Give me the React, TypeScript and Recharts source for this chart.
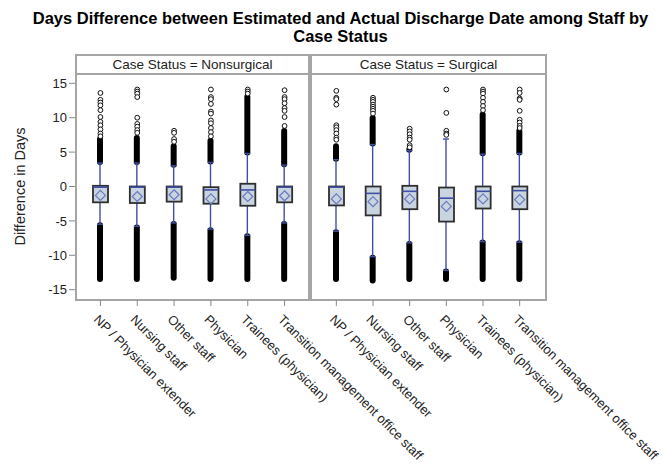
import { ComposedChart, Bar, Scatter, XAxis, YAxis, Label } from 'recharts'

const FONT = '"Liberation Sans", Arial, sans-serif'

const staff = [
	'NP / Physician extender',
	'Nursing staff',
	'Other staff',
	'Physician',
	'Trainees (physician)',
	'Transition management office staff',
]

const yTicks = [-15, -10, -5, 0, 5, 10, 15]

// Case Status = Nonsurgical
const nsQ1 = [-2.3, -2.4, -2.2, -2.5, -2.8, -2.3]
const nsMedian = [-0.1, -0.1, -0.1, -0.5, -0.5, -0.1]
const nsQ3 = [0.1, 0, 0, -0.1, 0.4, 0]
const nsMean = [-1.3, -1.45, -1.2, -1.8, -1.45, -1.35]
const nsWhiskerLow = [-5.5, -5.8, -5.3, -6.2, -7.1, -5.3]
const nsWhiskerHigh = [3.4, 3.4, 3.0, 3.5, 4.8, 3.1]
const nsDenseLow = [-13.6, -13.6, -13.4, -13.6, -13.6, -13.6]
const nsDenseHigh = [7.0, 7.2, 6.0, 6.8, 13.2, 8.2]
const nsOutliers = [
	[13.6, 12.6, 12.2, 11.8, 11.1, 10.1, 9.4, 8.9, 8.3, 7.7, 7.3],
	[14.1, 13.8, 13.5, 13.0, 10.0, 9.1, 8.7, 8.2, 7.8],
	[8.1, 7.8, 6.9, 6.5],
	[14.1, 13.0, 12.7, 12.0, 10.9, 10.6, 9.6, 9.2, 8.5, 7.9, 7.3],
	[14.1, 13.8, 13.5],
	[14.0, 13.0, 12.7, 12.1, 11.4, 11.0, 10.1, 8.8],
]

// Case Status = Surgical
const sQ1 = [-2.75, -4.2, -3.3, -5.1, -3.2, -3.3]
const sMedian = [-0.1, -1.0, -0.7, -1.7, -0.7, -0.6]
const sQ3 = [0, 0, 0.1, -0.15, 0, 0]
const sMean = [-1.8, -2.2, -1.8, -2.9, -1.8, -1.9]
const sWhiskerLow = [-6.5, -10.2, -8.2, -12.2, -8.0, -8.1]
const sWhiskerHigh = [3.9, 6.1, 5.2, 6.9, 4.7, 4.8]
const sDenseLow = [-13.6, -13.8, -13.6, -13.6, -13.6, -13.6]
const sDenseHigh = [6.0, 10.1, 5.5, 6.9, 10.6, 8.2]
const sOutliers = [
	[13.9, 12.9, 12.7, 11.9, 8.9, 8.6, 8.2, 7.7, 7.1, 6.8],
	[12.9, 12.6, 12.3, 11.9, 11.6, 11.3, 11.0, 10.6],
	[8.4, 8.0, 7.6, 7.1, 6.8, 6.0, 5.7],
	[14.1, 10.7, 8.1, 7.7, 7.5],
	[14.1, 13.8, 13.5, 12.9, 12.3, 11.7, 11.1],
	[14.1, 13.6, 12.8, 12.6, 11.0, 9.7, 9.3, 8.8, 8.5],
]

function buildRows(q1, med, q3, mean, wLo, wHi, dLo, dHi) {
	return staff.map((name, i) => ({
		name,
		box: [q1[i], q3[i]],
		whisker: [wLo[i], wHi[i]],
		upper: [wHi[i], dHi[i]],
		lower: [dLo[i], wLo[i]],
		median: med[i],
		mean: mean[i],
	}))
}

function buildPoints(outliers) {
	return staff.flatMap((name, i) => outliers[i].map((v) => ({ name, v })))
}

const nsRows = buildRows(nsQ1, nsMedian, nsQ3, nsMean, nsWhiskerLow, nsWhiskerHigh, nsDenseLow, nsDenseHigh)
const sRows = buildRows(sQ1, sMedian, sQ3, sMean, sWhiskerLow, sWhiskerHigh, sDenseLow, sDenseHigh)
const nsPoints = buildPoints(nsOutliers)
const sPoints = buildPoints(sOutliers)

const BoxShape = (p) => {
	const h = Math.abs(p.height)
	const top = Math.min(p.y, p.y + p.height)
	return <rect x={p.x} y={top} width={p.width} height={h} fill="#c9d4e1" stroke="#2e2e2e" strokeWidth={1.8} />
}

const WhiskerShape = (p) => {
	const cx = p.x + p.width / 2
	const top = Math.min(p.y, p.y + p.height)
	const bot = top + Math.abs(p.height)
	return (
		<g stroke="#3f4fa3" strokeWidth={1.4}>
			<line x1={cx} x2={cx} y1={top} y2={bot} />
			<line x1={cx - 3} x2={cx + 3} y1={top} y2={top} />
			<line x1={cx - 3} x2={cx + 3} y1={bot} y2={bot} />
		</g>
	)
}

const BandShape = (p) => {
	const h = Math.abs(p.height)
	if (h < 0.5) return null
	const top = Math.min(p.y, p.y + p.height)
	return <rect x={p.x} y={top - 2} width={p.width} height={h + 4} rx={3} fill="#000" />
}

const MedianShape = (p) => <line x1={p.cx - 7.5} x2={p.cx + 7.5} y1={p.cy} y2={p.cy} stroke="#3f4fa3" strokeWidth={1.6} />

const MeanShape = (p) => (
	<polygon
		points={`${p.cx},${p.cy - 5} ${p.cx + 5},${p.cy} ${p.cx},${p.cy + 5} ${p.cx - 5},${p.cy}`}
		fill="none"
		stroke="#6a79bf"
		strokeWidth={1.2}
	/>
)

const OutlierShape = (p) => <circle cx={p.cx} cy={p.cy} r={2.4} fill="#fff" stroke="#111" strokeWidth={1} />

const StaffTick = ({ x, y, payload }) => (
	<g transform={`translate(${x},${y}) rotate(45)`}>
		<text x={3.5} y={0} dy={14} textAnchor="start" fontSize={13} fill="#222" fontFamily={FONT}>
			{payload.value}
		</text>
	</g>
)

function Panel({ rows, points, left, right, pad, showY }) {
	const hiddenAxis = (id) => (
		<XAxis xAxisId={id} dataKey="name" type="category" hide height={0} padding={pad} />
	)
	return (
		<div style={{ position: 'absolute', left: 0, top: 0 }}>
			<ComposedChart width={664} height={470} data={rows} margin={{ top: 73, bottom: 10, left, right }}>
				<XAxis
					xAxisId="main"
					dataKey="name"
					type="category"
					allowDuplicatedCategory={false}
					height={160}
					padding={pad}
					interval={0}
					tick={<StaffTick />}
					tickSize={6}
					tickLine={{ stroke: '#888' }}
					axisLine={false}
				/>
				{hiddenAxis('w')}
				{hiddenAxis('u')}
				{hiddenAxis('l')}
				<YAxis
					type="number"
					domain={[-16.5, 16.5]}
					ticks={yTicks}
					hide={!showY}
					width={57}
					tickSize={6}
					tickLine={{ stroke: '#888' }}
					axisLine={false}
					tick={{ fontSize: 13, fill: '#222', fontFamily: FONT }}
				>
					{showY && (
						<Label
							value="Difference in Days"
							angle={-90}
							position="insideLeft"
							offset={2}
							style={{ textAnchor: 'middle', fontSize: 14.5, fill: '#222', fontFamily: FONT }}
						/>
					)}
				</YAxis>
				<Bar xAxisId="u" dataKey="upper" barSize={6} shape={BandShape} isAnimationActive={false} />
				<Bar xAxisId="l" dataKey="lower" barSize={6} shape={BandShape} isAnimationActive={false} />
				<Bar xAxisId="w" dataKey="whisker" barSize={8} shape={WhiskerShape} isAnimationActive={false} />
				<Bar xAxisId="main" dataKey="box" barSize={15} shape={BoxShape} isAnimationActive={false} />
				<Scatter xAxisId="main" dataKey="median" shape={MedianShape} isAnimationActive={false} />
				<Scatter xAxisId="main" dataKey="mean" shape={MeanShape} isAnimationActive={false} />
				<Scatter xAxisId="main" data={points} dataKey="v" shape={OutlierShape} isAnimationActive={false} />
			</ComposedChart>
		</div>
	)
}

const frame = { position: 'absolute', top: 54, height: 247, border: '2px solid #a5a5a5', boxSizing: 'border-box' }
const strip = {
	height: 19,
	borderBottom: '2px solid #a5a5a5',
	boxSizing: 'border-box',
	textAlign: 'center',
	fontSize: 13.5,
	lineHeight: '17px',
	color: '#222',
	fontFamily: FONT,
}

export default function App() {
	return (
		<div style={{ position: 'absolute', left: 0, top: 0, width: 664, height: 470, background: '#fff', overflow: 'hidden' }}>
			<div
				style={{
					position: 'absolute',
					left: 0,
					top: 9,
					width: 681,
					textAlign: 'center',
					fontFamily: FONT,
					fontWeight: 'bold',
					fontSize: 16.5,
					lineHeight: '18px',
					color: '#000',
				}}
			>
				Days Difference between Estimated and Actual Discharge Date among Staff by
				<br />
				Case Status
			</div>
			<div style={{ ...frame, left: 75, width: 235 }}>
				<div style={strip}>Case Status = Nonsurgical</div>
			</div>
			<div style={{ ...frame, left: 310, width: 237 }}>
				<div style={strip}>Case Status = Surgical</div>
			</div>
			<Panel rows={nsRows} points={nsPoints} left={18} right={354} pad={{ left: 7, right: 7 }} showY />
			<Panel rows={sRows} points={sPoints} left={312} right={118} pad={{ left: 6, right: 8 }} showY={false} />
		</div>
	)
}
